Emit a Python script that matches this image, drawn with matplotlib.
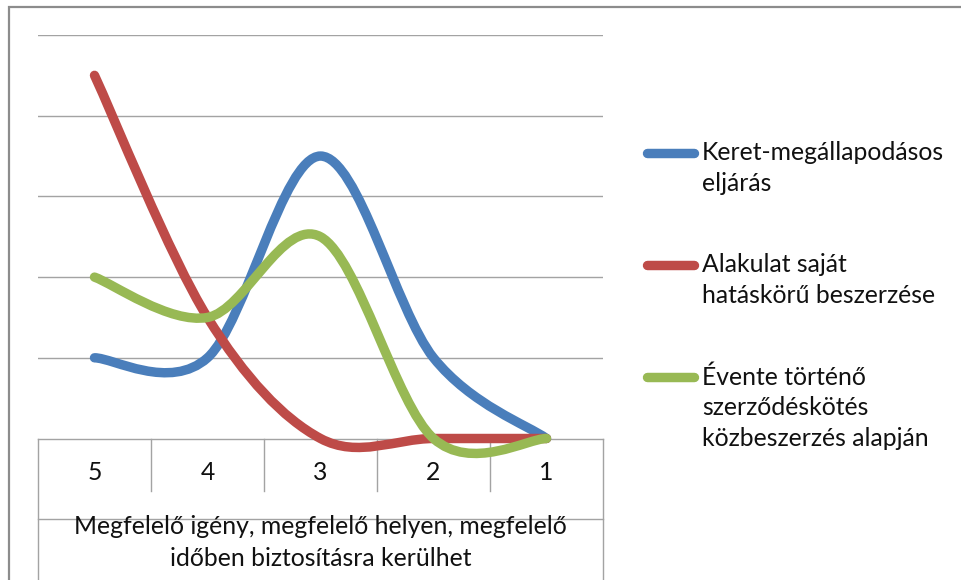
import numpy as np
import matplotlib
matplotlib.use("Agg")
import matplotlib.pyplot as plt
from matplotlib.path import Path
from matplotlib.patches import PathPatch, Rectangle
from matplotlib.lines import Line2D

# ---- data ----
categories = ["5", "4", "3", "2", "1"]
series_names = ["Keret-megállapodásos\neljárás",
                "Alakulat saját\nhatáskörű beszerzése",
                "Évente történő\nszerződéskötés\nközbeszerzés alapján"]
keret = [1.0, 1.0, 3.5, 1.0, 0.0]
alakulat = [4.5, 1.5, 0.0, 0.0, 0.0]
evente = [2.0, 1.5, 2.5, 0.0, 0.0]
axis_title = "Megfelelő igény, megfelelő helyen, megfelelő\nidőben biztosításra kerülhet"
colors = ["#4A7EBB", "#BE4B48", "#98B954"]

W, H = 962, 580
fig = plt.figure(figsize=(W / 100, H / 100), dpi=100)
fig.patch.set_facecolor("white")

def fx(px):
    return px / W

def fy(py):
    return 1 - py / H

FONT = "Lato"
TXT = "#111111"
GRID = "#a3a3a3"
LW = 6.8

# plot area in pixels
L, R, T, B = 38, 603, 35, 438.5
ax = fig.add_axes([fx(L), fy(B), (R - L) / W, (B - T) / H])
ax.set_xlim(-0.5, len(categories) - 0.5)
ax.set_ylim(0, 5)
ax.axis("off")

# gridlines
for v in range(1, 6):
    ax.axhline(v, color=GRID, lw=1.0, zorder=1)

# smoothed (Excel-like bezier) lines
def smooth_path(xs, ys):
    pts = np.column_stack([xs, ys]).astype(float)
    n = len(pts)
    verts = [pts[0]]
    codes = [Path.MOVETO]
    for i in range(n - 1):
        p_prev = pts[i - 1] if i > 0 else pts[i]
        p0, p1 = pts[i], pts[i + 1]
        p_next = pts[i + 2] if i + 2 < n else pts[i + 1]
        c1 = p0 + (p1 - p_prev) / 6.0
        c2 = p1 - (p_next - p0) / 6.0
        verts += [c1, c2, p1]
        codes += [Path.CURVE4] * 3
    return Path(verts, codes)

xs = np.arange(len(categories))
for vals, col in zip([keret, alakulat, evente], colors):
    patch = PathPatch(smooth_path(xs, vals), facecolor="none", edgecolor=col,
                      lw=LW, capstyle="round", joinstyle="round",
                      transform=ax.transData, clip_on=False, zorder=3)
    ax.add_patch(patch)

# font size fitted to reference text width
probe = fig.text(0, 0, "Keret-megállapodásos", fontsize=16, family=FONT)
r = fig.canvas.get_renderer()
w16 = probe.get_window_extent(r).width
probe.remove()
FS = 16 * 243 / w16

# category table
axh = B - T
def ay(py):
    return (B - py) / axh

xt = ax.get_xaxis_transform()
ax.plot([-0.5, len(categories) - 0.5], [0, 0], transform=xt, color=GRID, lw=1.0,
        clip_on=False, zorder=2)
for edge in [-0.5, len(categories) - 0.5]:
    ax.plot([edge, edge], [0, ay(H + 2)], transform=xt, color=GRID, lw=1.0, clip_on=False)
for k in range(1, len(categories)):
    ax.plot([k - 0.5, k - 0.5], [0, ay(491)], transform=xt, color=GRID, lw=1.0, clip_on=False)
ax.plot([-0.5, len(categories) - 0.5], [ay(519), ay(519)], transform=xt, color=GRID,
        lw=1.0, clip_on=False)
for i, c in enumerate(categories):
    ax.text(i, ay(473), c, transform=xt, ha="center", va="center", fontsize=FS,
            family=FONT, color=TXT)
for j, line in enumerate(axis_title.split("\n")):
    fig.text(fx((L + R) / 2), fy(527 + 31 * j), line, ha="center", va="center",
             fontsize=FS, family=FONT, color=TXT)

# legend
leg_y = [153, 265, 377]
for name, col, y0 in zip(series_names, colors, leg_y):
    fig.add_artist(Line2D([fx(647), fx(694)], [fy(y0), fy(y0)], color=col, lw=LW,
                          solid_capstyle="round"))
    for j, line in enumerate(name.split("\n")):
        fig.text(fx(702), fy(y0 + 30.5 * j), line, ha="left", va="center",
                 fontsize=FS, family=FONT, color=TXT)

# outer chart border
fig.add_artist(Rectangle((fx(9), fy(H + 20)), 1.2, fy(7) - fy(H + 20),
                         transform=fig.transFigure, fill=False, edgecolor="#8c8c8c",
                         lw=1.6, clip_on=False))

fig.savefig("out.png", dpi=100, facecolor="white")
